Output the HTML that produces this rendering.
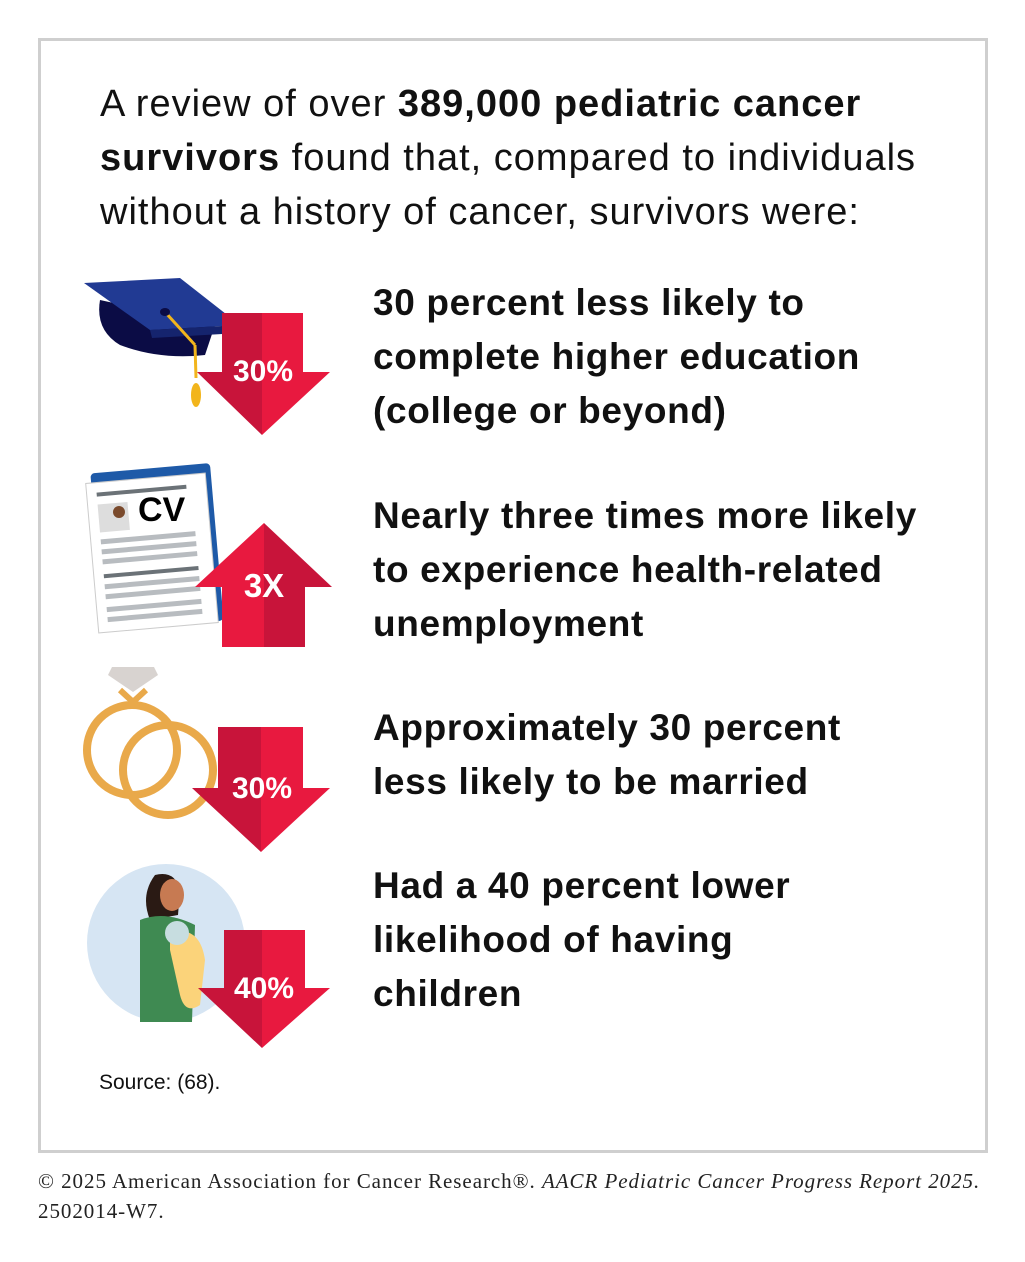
<!DOCTYPE html>
<html><head><meta charset="utf-8"><style>
body{margin:0;background:#fff;width:1025px;height:1262px;position:relative;overflow:hidden;font-family:"Liberation Sans",sans-serif;}
.box{position:absolute;left:38px;top:38px;width:944px;height:1109px;border:3px solid #cfcfcf;}
.t{position:absolute;color:#111;white-space:nowrap;}
.head{left:100px;top:77px;font-size:38px;line-height:54px;letter-spacing:1.0px;}
.it{left:373px;font-size:37px;line-height:54px;font-weight:bold;letter-spacing:0.65px;}
.foot{position:absolute;left:38px;top:1166px;font-family:"Liberation Serif",serif;font-size:21px;line-height:30px;color:#222;white-space:nowrap;letter-spacing:0.95px;}
svg{position:absolute;left:0;top:0;}
</style></head><body>
<div class="box"></div>
<div class="t head">A review of over <b>389,000 pediatric cancer</b><br><b>survivors</b> found that, compared to individuals<br>without a history of cancer, survivors were:</div>
<div class="t it" style="top:276px">30 percent less likely to<br>complete higher education<br>(college or beyond)</div>
<div class="t it" style="top:489px">Nearly three times more likely<br>to experience health-related<br>unemployment</div>
<div class="t it" style="top:701px">Approximately 30 percent<br>less likely to be married</div>
<div class="t it" style="top:859px">Had a 40 percent lower<br>likelihood of having<br>children</div>
<div class="t" style="left:99px;top:1071px;font-size:21px;">Source: (68).</div>
<div class="foot">© 2025 American Association for Cancer Research®. <i>AACR Pediatric Cancer Progress Report 2025.</i><br>2502014-W7.</div>
<svg width="1025" height="1262">
<path d="M100 300 Q95 330 120 345 Q160 360 205 355 L215 325 Z" fill="#0b0c45"/>
<polygon points="84,283 180,278 240,325 150,330" fill="#213a93"/>
<polygon points="150,330 240,325 240,333 152,338" fill="#15246e"/>
<line x1="165" y1="312" x2="195" y2="345" stroke="#f2b51c" stroke-width="3"/>
<line x1="195" y1="345" x2="196" y2="378" stroke="#f2b51c" stroke-width="3"/>
<ellipse cx="196" cy="395" rx="5" ry="12" fill="#f2b51c"/>
<ellipse cx="165" cy="312" rx="5" ry="4" fill="#0b0c45"/>
<polygon points="222,313 262,313 262,435 197,372 222,372" fill="#c8143a"/>
<polygon points="262,313 303,313 303,372 330,372 262,435" fill="#e8193f"/>
<text x="263" y="381" fill="#fff" font-size="30" font-weight="bold" text-anchor="middle">30%</text>
<rect x="97" y="468" width="120" height="158" rx="4" fill="#1e5aa8" transform="rotate(-5 157 547)"/>
<rect x="92" y="478" width="120" height="150" fill="#fff" stroke="#ccc" transform="rotate(-5 152 553)"/>
<g transform="rotate(-5 152 553)" fill="#b8bcc0">
<rect x="102" y="488" width="90" height="4" fill="#6b7277"/>
<rect x="102" y="500" width="30" height="28" fill="#ddd"/>
<rect x="102" y="535" width="95" height="5"/><rect x="102" y="545" width="95" height="5"/><rect x="102" y="555" width="95" height="5"/>
<rect x="102" y="570" width="95" height="4" fill="#6b7277"/>
<rect x="102" y="580" width="95" height="5"/><rect x="102" y="590" width="95" height="5"/><rect x="102" y="603" width="95" height="5"/><rect x="102" y="613" width="95" height="5"/>
</g>
<circle cx="119" cy="512" r="6" fill="#7a4a2c"/>
<text x="138" y="521" font-size="34" font-weight="bold" fill="#000">CV</text>
<polygon points="264,523 264,647 222,647 222,587 195,587" fill="#e8193f"/>
<polygon points="264,523 332,587 305,587 305,647 264,647" fill="#c8143a"/>
<text x="264" y="597" fill="#fff" font-size="33" font-weight="bold" text-anchor="middle">3X</text>
<polyline points="120,690 133,702 146,690" fill="none" stroke="#e9a94a" stroke-width="6"/>
<circle cx="132" cy="750" r="45" fill="none" stroke="#e9a94a" stroke-width="8"/>
<circle cx="168" cy="770" r="45" fill="none" stroke="#e9a94a" stroke-width="8"/>
<polygon points="112,667 154,667 158,675 133,692 108,675" fill="#d8d3d0"/>
<polygon points="218,727 261,727 261,852 192,788 218,788" fill="#c8143a"/>
<polygon points="261,727 303,727 303,788 330,788 261,852" fill="#e8193f"/>
<text x="262" y="798" fill="#fff" font-size="30" font-weight="bold" text-anchor="middle">30%</text>
<circle cx="166" cy="943" r="79" fill="#d6e5f3"/>
<path d="M155 875 Q175 870 180 890 L178 915 L150 920 Q140 895 155 875Z" fill="#2a1a14"/>
<ellipse cx="172" cy="895" rx="12" ry="16" fill="#c77a52"/>
<path d="M140 920 Q165 910 195 925 L192 1022 L140 1022 Z" fill="#3f8a52"/>
<path d="M170 932 Q200 925 205 960 L200 1005 Q185 1015 180 995 L170 950Z" fill="#fbd37a"/>
<circle cx="177" cy="933" r="12" fill="#c7dde0"/>
<polygon points="224,930 262,930 262,1048 198,988 224,988" fill="#c8143a"/>
<polygon points="262,930 305,930 305,988 330,988 262,1048" fill="#e8193f"/>
<text x="264" y="998" fill="#fff" font-size="30" font-weight="bold" text-anchor="middle">40%</text>
</svg>
</body></html>
